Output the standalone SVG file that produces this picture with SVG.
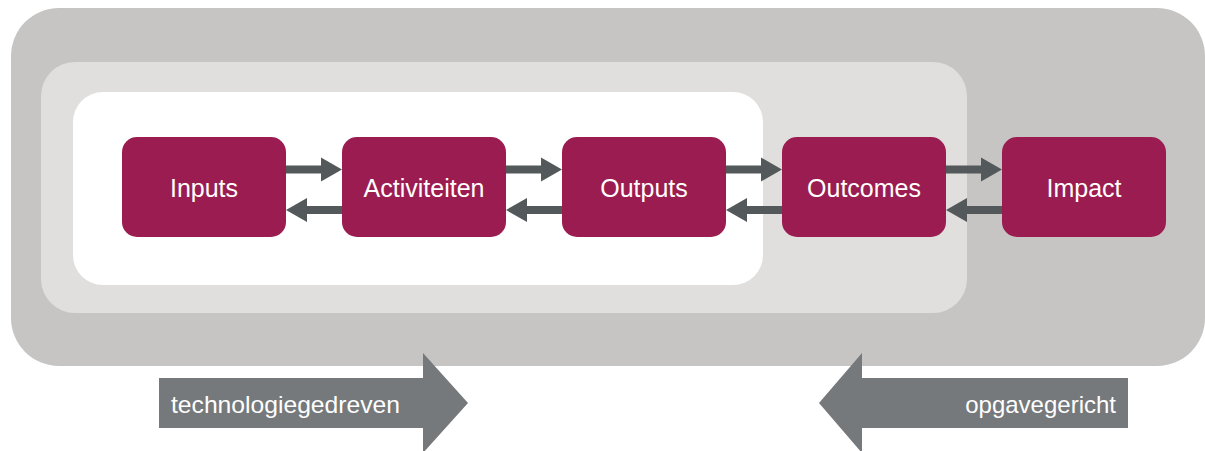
<svg xmlns="http://www.w3.org/2000/svg" width="1205" height="451" viewBox="0 0 1205 451">
<style>
.node{fill:#9b1c50}
.lbl{font-family:"Liberation Sans",Arial,sans-serif;font-size:25px;fill:#ffffff;text-anchor:middle}
.conn{fill:#53595a}
.big{fill:#75797b}
.big-lbl{font-family:"Liberation Sans",Arial,sans-serif;font-size:24px;fill:#ffffff}
</style>
<rect width="1205" height="451" fill="#ffffff"/>
<g id="zones">
<rect x="11" y="8" width="1194" height="358" rx="48" fill="#c6c5c3"/>
<rect x="41" y="62" width="926" height="251" rx="34" fill="#e0dfdd"/>
<rect x="73" y="92" width="690" height="193" rx="30" fill="#ffffff"/>
</g>
<g id="connectors">
<polygon class="conn" points="286,165.5 321,165.5 321,157.5 342,169.5 321,181.5 321,173.5 286,173.5"/>
<polygon class="conn" points="342,206 307,206 307,198 286,210 307,222 307,214 342,214"/>
<polygon class="conn" points="506,165.5 541,165.5 541,157.5 562,169.5 541,181.5 541,173.5 506,173.5"/>
<polygon class="conn" points="562,206 527,206 527,198 506,210 527,222 527,214 562,214"/>
<polygon class="conn" points="726,165.5 761,165.5 761,157.5 782,169.5 761,181.5 761,173.5 726,173.5"/>
<polygon class="conn" points="782,206 747,206 747,198 726,210 747,222 747,214 782,214"/>
<polygon class="conn" points="946,165.5 981,165.5 981,157.5 1002,169.5 981,181.5 981,173.5 946,173.5"/>
<polygon class="conn" points="1002,206 967,206 967,198 946,210 967,222 967,214 1002,214"/>
</g>
<g id="inputs"><rect class="node" x="122" y="137" width="164" height="100" rx="15"/><text class="lbl" x="204" y="197">Inputs</text></g>
<g id="activiteiten"><rect class="node" x="342" y="137" width="164" height="100" rx="15"/><text class="lbl" x="424" y="197">Activiteiten</text></g>
<g id="outputs"><rect class="node" x="562" y="137" width="164" height="100" rx="15"/><text class="lbl" x="644" y="197">Outputs</text></g>
<g id="outcomes"><rect class="node" x="782" y="137" width="164" height="100" rx="15"/><text class="lbl" x="864" y="197">Outcomes</text></g>
<g id="impact"><rect class="node" x="1002" y="137" width="164" height="100" rx="15"/><text class="lbl" x="1084" y="197">Impact</text></g>
<g id="technologiegedreven">
<polygon class="big" points="159,378 423,378 423,353 468,403 423,453 423,428 159,428"/>
<text class="big-lbl" x="171" y="413" textLength="229" lengthAdjust="spacingAndGlyphs">technologiegedreven</text>
</g>
<g id="opgavegericht">
<polygon class="big" points="1128,378 862,378 862,353 819,403 862,453 862,428 1128,428"/>
<text class="big-lbl" x="1116" y="413" text-anchor="end">opgavegericht</text>
</g>
</svg>
